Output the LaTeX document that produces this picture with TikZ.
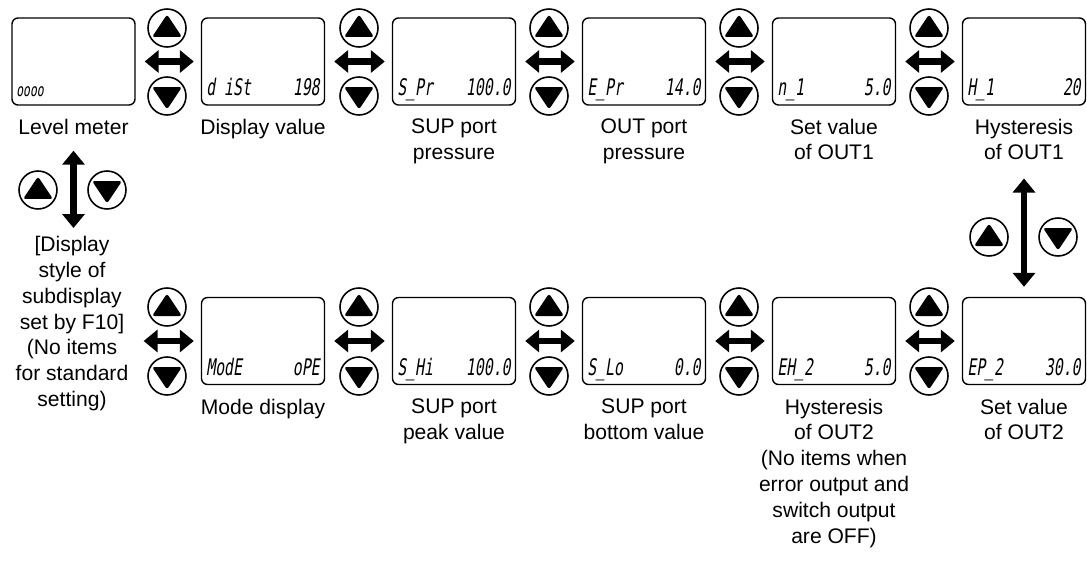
\documentclass[tikz,border=0pt]{standalone}
\usepackage{fontspec}
\setmainfont{Liberation Sans}
\newfontfamily\lcdfont{DejaVu Sans Mono}[FakeStretch=0.65,FakeSlant=0.15]
\usetikzlibrary{arrows.meta}

\begin{document}
\begin{tikzpicture}[x=0.02cm, y=-0.02cm, font=\fontsize{12}{14.7}\selectfont,
          lcd/.style={draw, line width=0.8pt, rounded corners=0.12cm, minimum width=2.46cm, minimum height=1.74cm},
          lbl/.style={align=center, inner sep=0pt, anchor=north},
          seg/.style={font=\lcdfont\fontsize{13}{13}\selectfont, inner sep=0pt},
          btn/.style={circle, draw, line width=0.9pt, minimum size=0.76cm, inner sep=0pt},
          upbtn/.style={btn, path picture={\fill[shift={(path picture bounding box.center)}, rounded corners=1.5pt] (0,0.27cm) -- (0.3cm,-0.18cm) -- (-0.3cm,-0.18cm) -- cycle;}},
          dnbtn/.style={btn, path picture={\fill[shift={(path picture bounding box.center)}, rounded corners=1.5pt] (0,-0.27cm) -- (0.3cm,0.18cm) -- (-0.3cm,0.18cm) -- cycle;}},
          dbl/.style={{Triangle[length=0.28cm,width=0.44cm]}-{Triangle[length=0.28cm,width=0.44cm]}, line width=0.13cm}]
        \useasboundingbox (0,0) rectangle (1087,571);
        % top row
        \node[lcd] (lvl) at (73.5,61.5) {};
        \node[lcd] (dist) at (263,61.5) {};
        \node[lcd] (spr) at (454,61.5) {};
        \node[lcd] (epr) at (644,61.5) {};
        \node[lcd] (n1) at (834,61.5) {};
        \node[lcd] (h1) at (1024,61.5) {};
        % bottom row
        \node[lcd] (mode) at (263,341) {};
        \node[lcd] (shi) at (454,341) {};
        \node[lcd] (slo) at (644,341) {};
        \node[lcd] (eh2) at (834,341) {};
        \node[lcd] (ep2) at (1024,341) {};
        % display readings
        \node[seg, anchor=base west, font=\lcdfont\fontsize{10}{10}\selectfont] (lvlA) at (16,96) {oooo};
        \node[seg, anchor=base west] (distA) at (206,95) {d iSt};
        \node[seg, anchor=base east] (distB) at (320,95) {198};
        \node[seg, anchor=base west] (sprA) at (397,95) {S\_Pr};
        \node[seg, anchor=base east] (sprB) at (511,95) {100.0};
        \node[seg, anchor=base west] (eprA) at (587,95) {E\_Pr};
        \node[seg, anchor=base east] (eprB) at (701,95) {14.0};
        \node[seg, anchor=base west] (n1A) at (777,95) {n\_1};
        \node[seg, anchor=base east] (n1B) at (891,95) {5.0};
        \node[seg, anchor=base west] (h1A) at (967,95) {H\_1};
        \node[seg, anchor=base east] (h1B) at (1081,95) {20};
        \node[seg, anchor=base west] (modeA) at (206,375) {ModE};
        \node[seg, anchor=base east] (modeB) at (320,375) {oPE};
        \node[seg, anchor=base west] (shiA) at (397,375) {S\_Hi};
        \node[seg, anchor=base east] (shiB) at (511,375) {100.0};
        \node[seg, anchor=base west] (sloA) at (587,375) {S\_Lo};
        \node[seg, anchor=base east] (sloB) at (701,375) {0.0};
        \node[seg, anchor=base west] (eh2A) at (777,375) {EH\_2};
        \node[seg, anchor=base east] (eh2B) at (891,375) {5.0};
        \node[seg, anchor=base west] (ep2A) at (967,375) {EP\_2};
        \node[seg, anchor=base east] (ep2B) at (1081,375) {30.0};
        % labels
        \node[lbl] (lvlL) at (73.5,118.5) {Level meter};
        \node[lbl] (distL) at (263,118.5) {Display value};
        \node[lbl] (sprL) at (454,118.5) {SUP port\\pressure};
        \node[lbl] (eprL) at (644,118.5) {OUT port\\pressure};
        \node[lbl] (n1L) at (834,118.5) {Set value\\of OUT1};
        \node[lbl] (h1L) at (1024,118.5) {Hysteresis\\of OUT1};
        \node[lbl] (subL) at (72,236) {[Display\\style of\\subdisplay\\set by F10]\\(No items\\for standard\\setting)};
        \node[lbl] (modeL) at (263,398.5) {Mode display};
        \node[lbl] (shiL) at (454,398.5) {SUP port\\peak value};
        \node[lbl] (sloL) at (644,398.5) {SUP port\\bottom value};
        \node[lbl] (eh2L) at (834,398.5) {Hysteresis\\of OUT2\\(No items when\\error output and\\switch output\\are OFF)};
        \node[lbl] (ep2L) at (1024,398.5) {Set value\\of OUT2};
        % buttons
        \node[upbtn] (u1) at (167,28) {};   \node[dnbtn] (d1) at (167,96) {};
        \node[upbtn] (u2) at (359,28) {};   \node[dnbtn] (d2) at (359,96) {};
        \node[upbtn] (u3) at (549,28) {};   \node[dnbtn] (d3) at (549,96) {};
        \node[upbtn] (u4) at (739,28) {};   \node[dnbtn] (d4) at (739,96) {};
        \node[upbtn] (u5) at (929,28) {};   \node[dnbtn] (d5) at (929,96) {};
        \node[upbtn] (u6) at (167,307) {};  \node[dnbtn] (d6) at (167,376) {};
        \node[upbtn] (u7) at (359,307) {};  \node[dnbtn] (d7) at (359,376) {};
        \node[upbtn] (u8) at (549,307) {};  \node[dnbtn] (d8) at (549,376) {};
        \node[upbtn] (u9) at (739,307) {};  \node[dnbtn] (d9) at (739,376) {};
        \node[upbtn] (u10) at (929,307) {}; \node[dnbtn] (d10) at (929,376) {};
        \node[upbtn] (uL) at (38,190) {};   \node[dnbtn] (dL) at (107,190) {};
        \node[upbtn] (uR) at (989,237) {};  \node[dnbtn] (dR) at (1058,237) {};
        % arrows
        \draw[dbl, shorten <=0.18cm, shorten >=0.14cm] (lvl) -- (dist);
        \draw[dbl, shorten <=0.18cm, shorten >=0.14cm] (dist) -- (spr);
        \draw[dbl, shorten <=0.18cm, shorten >=0.14cm] (spr) -- (epr);
        \draw[dbl, shorten <=0.18cm, shorten >=0.14cm] (epr) -- (n1);
        \draw[dbl, shorten <=0.18cm, shorten >=0.14cm] (n1) -- (h1);
        \draw[dbl, shorten <=0.3cm, shorten >=0.14cm] (subL.east |- mode.west) -- (mode.west);
        \draw[dbl, shorten <=0.18cm, shorten >=0.14cm] (mode) -- (shi);
        \draw[dbl, shorten <=0.18cm, shorten >=0.14cm] (shi) -- (slo);
        \draw[dbl, shorten <=0.18cm, shorten >=0.14cm] (slo) -- (eh2);
        \draw[dbl, shorten <=0.18cm, shorten >=0.14cm] (eh2) -- (ep2);
        \draw[dbl, shorten <=0.32cm, shorten >=0.16cm] (lvlL.south) -- (lvlL.south |- subL.north);
        \draw[dbl, shorten <=0.36cm, shorten >=0.2cm] (h1L.south) -- (ep2.north);
\end{tikzpicture}
\end{document}
